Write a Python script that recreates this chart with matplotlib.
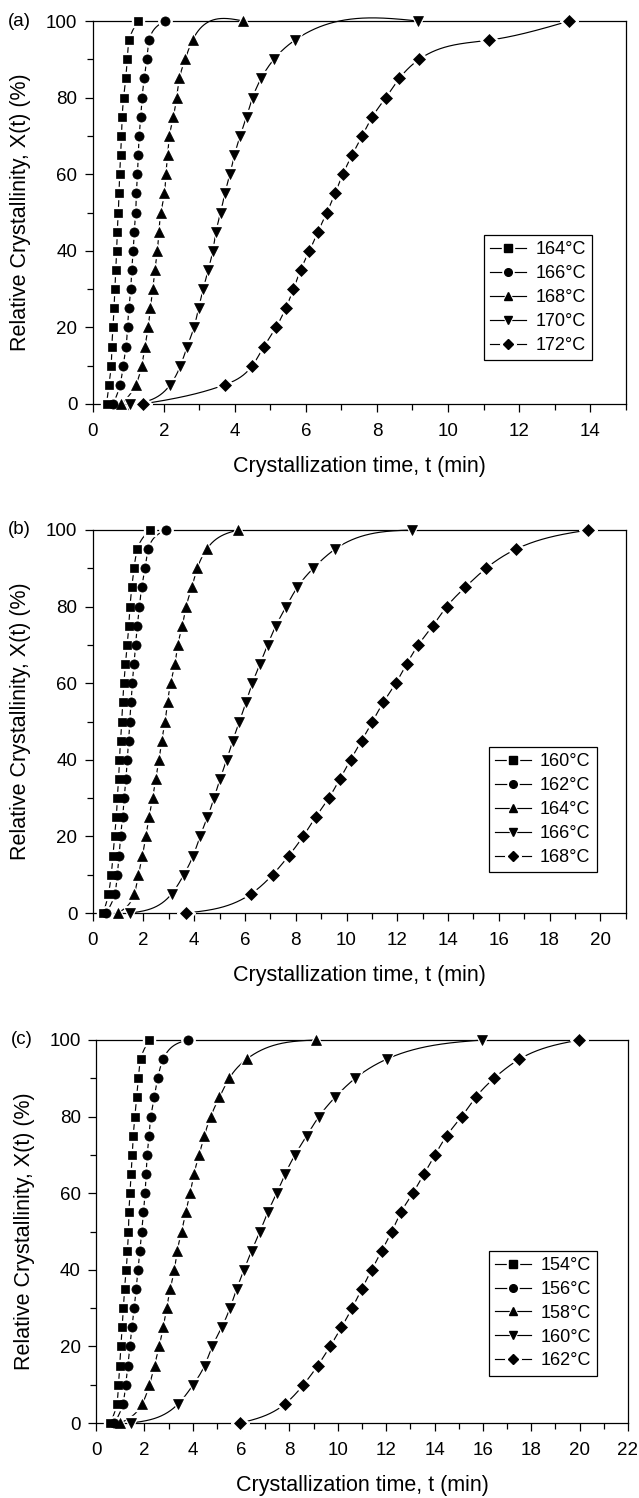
import numpy as np
import matplotlib
matplotlib.use("Agg")
import matplotlib.pyplot as plt
from matplotlib.lines import Line2D
from matplotlib.ticker import MultipleLocator

plt.rcParams['font.family'] = ['Liberation Sans', 'DejaVu Sans']

# Relative crystallinity levels (%) shared by every series
X_PCT = [0, 5, 10, 15, 20, 25, 30, 35, 40, 45, 50, 55, 60, 65, 70, 75, 80, 85, 90, 95, 100]

# ---- Panel (a) ----
A_LABELS = ['164°C', '166°C', '168°C', '170°C', '172°C']
A_T164 = [0.39, 0.46, 0.52, 0.54, 0.57, 0.60, 0.62, 0.65, 0.67, 0.69, 0.72, 0.74, 0.76, 0.79, 0.81, 0.83, 0.87, 0.93, 0.97, 1.03, 1.28]
A_T166 = [0.57, 0.77, 0.86, 0.94, 0.98, 1.02, 1.07, 1.10, 1.14, 1.17, 1.21, 1.23, 1.26, 1.28, 1.31, 1.35, 1.39, 1.45, 1.52, 1.59, 2.03]
A_T168 = [0.80, 1.21, 1.38, 1.47, 1.56, 1.62, 1.69, 1.75, 1.82, 1.86, 1.92, 2.02, 2.06, 2.11, 2.16, 2.27, 2.36, 2.44, 2.60, 2.81, 4.24]
A_T170 = [1.06, 2.18, 2.47, 2.66, 2.85, 2.98, 3.11, 3.25, 3.38, 3.47, 3.60, 3.72, 3.86, 3.99, 4.15, 4.33, 4.50, 4.74, 5.10, 5.69, 9.16]
A_T172 = [1.41, 3.71, 4.49, 4.82, 5.16, 5.43, 5.65, 5.85, 6.10, 6.34, 6.59, 6.82, 7.04, 7.30, 7.58, 7.87, 8.25, 8.63, 9.19, 11.16, 13.41]

# ---- Panel (b) ----
B_LABELS = ['160°C', '162°C', '164°C', '166°C', '168°C']
B_T160 = [0.42, 0.62, 0.73, 0.80, 0.86, 0.93, 0.97, 1.02, 1.05, 1.10, 1.14, 1.18, 1.23, 1.29, 1.36, 1.42, 1.47, 1.54, 1.63, 1.76, 2.26]
B_T162 = [0.52, 0.87, 0.97, 1.04, 1.10, 1.18, 1.24, 1.31, 1.36, 1.42, 1.46, 1.51, 1.56, 1.63, 1.69, 1.76, 1.84, 1.93, 2.06, 2.19, 2.89]
B_T164 = [0.99, 1.64, 1.80, 1.96, 2.09, 2.22, 2.36, 2.48, 2.61, 2.72, 2.85, 2.95, 3.07, 3.24, 3.35, 3.53, 3.68, 3.90, 4.12, 4.49, 5.74]
B_T166 = [1.48, 3.11, 3.59, 3.96, 4.23, 4.52, 4.78, 5.02, 5.28, 5.52, 5.78, 6.04, 6.29, 6.59, 6.89, 7.22, 7.62, 8.06, 8.69, 9.55, 12.60]
B_T168 = [3.67, 6.24, 7.09, 7.73, 8.29, 8.78, 9.30, 9.74, 10.16, 10.60, 11.02, 11.45, 11.94, 12.37, 12.83, 13.40, 13.95, 14.67, 15.50, 16.68, 19.53]

# ---- Panel (c) ----
C_LABELS = ['154°C', '156°C', '158°C', '160°C', '162°C']
C_T154 = [0.59, 0.86, 0.93, 0.98, 1.03, 1.08, 1.13, 1.18, 1.25, 1.30, 1.34, 1.36, 1.41, 1.45, 1.50, 1.54, 1.61, 1.68, 1.75, 1.85, 2.21]
C_T156 = [0.76, 1.11, 1.23, 1.32, 1.40, 1.49, 1.58, 1.66, 1.74, 1.82, 1.89, 1.96, 2.03, 2.07, 2.12, 2.19, 2.27, 2.41, 2.55, 2.78, 3.79]
C_T158 = [1.01, 1.91, 2.21, 2.42, 2.61, 2.78, 2.92, 3.07, 3.24, 3.36, 3.54, 3.71, 3.89, 4.05, 4.26, 4.48, 4.74, 5.10, 5.51, 6.23, 9.10]
C_T160 = [1.44, 3.40, 4.02, 4.49, 4.81, 5.20, 5.54, 5.82, 6.12, 6.44, 6.78, 7.10, 7.47, 7.82, 8.23, 8.71, 9.22, 9.88, 10.72, 12.02, 15.98]
C_T162 = [5.96, 7.82, 8.58, 9.17, 9.68, 10.15, 10.59, 10.99, 11.40, 11.82, 12.23, 12.61, 13.10, 13.56, 14.02, 14.50, 15.12, 15.70, 16.46, 17.51, 19.99]

MARKERS = ['s', 'o', '^', 'v', 'D']
MSIZE = [6.0, 6.6, 7.6, 7.6, 6.0]


def natural_spline(s, v, ss):
    n = len(s)
    h = np.diff(s)
    A = np.zeros((n, n))
    r = np.zeros(n)
    A[0, 0] = 1.0
    A[-1, -1] = 1.0
    for i in range(1, n - 1):
        A[i, i - 1] = h[i - 1]
        A[i, i] = 2 * (h[i - 1] + h[i])
        A[i, i + 1] = h[i]
        r[i] = 6 * ((v[i + 1] - v[i]) / h[i] - (v[i] - v[i - 1]) / h[i - 1])
    M = np.linalg.solve(A, r)
    idx = np.clip(np.searchsorted(s, ss, side='right') - 1, 0, n - 2)
    s0, s1 = s[idx], s[idx + 1]
    hh = s1 - s0
    out = (M[idx] * (s1 - ss) ** 3 / (6 * hh) + M[idx + 1] * (ss - s0) ** 3 / (6 * hh)
           + (v[idx] / hh - M[idx] * hh / 6) * (s1 - ss)
           + (v[idx + 1] / hh - M[idx + 1] * hh / 6) * (ss - s0))
    return out


def smooth_curve(t, x, sx, sy):
    X = np.asarray(t, float) * sx
    Y = np.asarray(x, float) * sy
    d = np.hypot(np.diff(X), np.diff(Y))
    s = np.concatenate([[0], np.cumsum(d)])
    ss = np.linspace(0, s[-1], 2000)
    xs = natural_spline(s, X, ss) / sx
    ys = natural_spline(s, Y, ss) / sy
    return xs, ys


fig = plt.figure(figsize=(6.39, 14.98), dpi=100)
W, H = 639.0, 1498.0


def panel(rect_px, series, labels, xmax, tag, leg_anchor):
    left, right, top, bottom = rect_px
    ax = fig.add_axes([left / W, 1 - bottom / H, (right - left) / W, (bottom - top) / H])
    ax.set_xlim(0, xmax)
    ax.set_ylim(0, 100)
    sx = 2.5 * (right - left) / xmax
    sy = (bottom - top) / 100.0
    for t in series:
        xs, ys = smooth_curve(t, X_PCT, sx, sy)
        ax.plot(xs, ys, color='k', lw=0.85, zorder=2, clip_on=False)
    for t, m, ms in zip(series, MARKERS, MSIZE):
        ax.plot(t, X_PCT, ls='none', marker=m, ms=ms + 3.0, mfc='white', mec='white',
                zorder=3, clip_on=False)
    for t, m, ms in zip(series, MARKERS, MSIZE):
        ax.plot(t, X_PCT, ls='none', marker=m, ms=ms, mfc='k', mec='k', mew=0.5,
                zorder=4, clip_on=False)

    ax.xaxis.set_major_locator(MultipleLocator(2))
    ax.xaxis.set_minor_locator(MultipleLocator(1))
    ax.yaxis.set_major_locator(MultipleLocator(20))
    ax.yaxis.set_minor_locator(MultipleLocator(10))
    ax.tick_params(which='major', direction='out', length=6, width=0.9, labelsize=13.5,
                   top=False, right=False)
    ax.tick_params(axis='x', which='major', pad=8)
    ax.tick_params(axis='y', which='major', pad=5)
    ax.tick_params(which='minor', direction='out', length=4, width=0.9, top=False, right=False)
    for sp in ax.spines.values():
        sp.set_linewidth(0.9)

    ax.set_xlabel('Crystallization time, t (min)', fontsize=15.5)
    ax.xaxis.set_label_coords(0.5, -0.135)
    ax.set_ylabel('Relative Crystallinity, X(t) (%)', fontsize=15.5)
    ax.yaxis.set_label_coords(-0.115, 0.5)
    ax.text(-0.16, 1.0, tag, transform=ax.transAxes, ha='left', va='center', fontsize=13.5)

    handles = []
    for m in MARKERS:
        handles.append((Line2D([], [], color='k', lw=0.85),
                        Line2D([], [], ls='none', marker=m, ms=8.0, mfc='white', mec='white'),
                        Line2D([], [], ls='none', marker=m, ms=5.5, mfc='k', mec='k')))
    leg = ax.legend(handles, labels, loc='upper right', bbox_to_anchor=leg_anchor,
                    borderaxespad=0, frameon=True, fancybox=False, edgecolor='k',
                    framealpha=1, fontsize=13, handlelength=2.0, handletextpad=0.5,
                    labelspacing=0.38, borderpad=0.35)
    leg.get_frame().set_linewidth(0.9)
    return ax


panel((92.7, 625.7, 21, 404), [A_T164, A_T166, A_T168, A_T170, A_T172], A_LABELS, 15, '(a)',
      (0.937, 0.441))
panel((92.7, 625.7, 530, 913), [B_T160, B_T162, B_T164, B_T166, B_T168], B_LABELS, 21, '(b)',
      (0.946, 0.433))
panel((96.0, 628.0, 1040, 1423), [C_T154, C_T156, C_T158, C_T160, C_T162], C_LABELS, 22, '(c)',
      (0.942, 0.45))

fig.savefig('out.png', dpi=100)
